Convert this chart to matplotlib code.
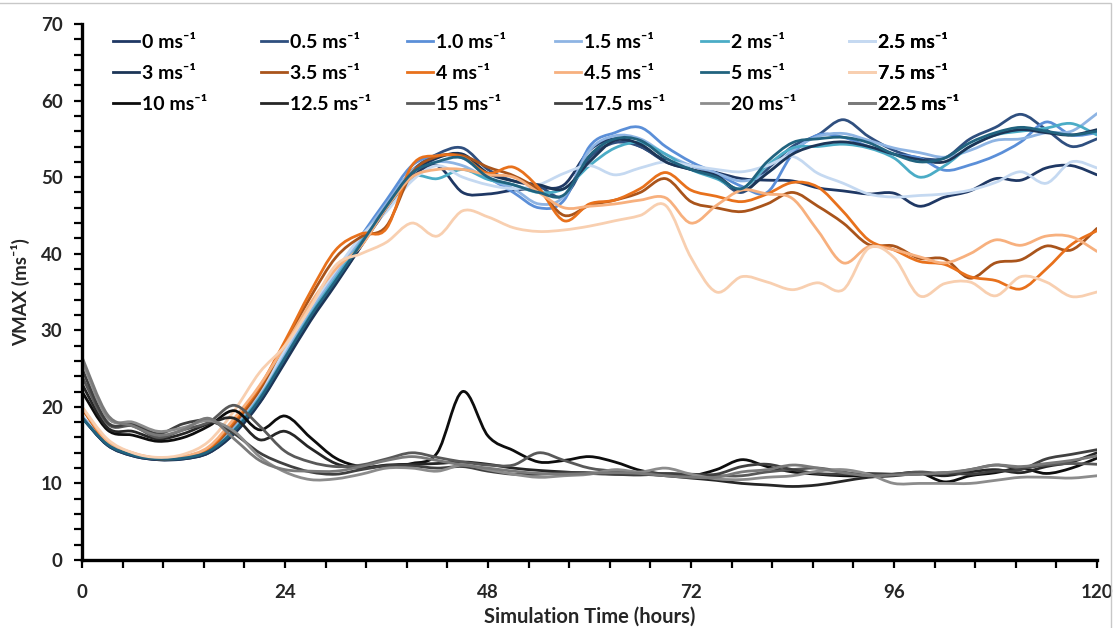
import numpy as np
import matplotlib
matplotlib.use("Agg")
import matplotlib.pyplot as plt
import matplotlib.ticker as mticker
from matplotlib.path import Path
from matplotlib.patches import PathPatch, Rectangle
from matplotlib.lines import Line2D

plt.rcParams['font.family'] = ['Lato', 'DejaVu Sans']
plt.rcParams['font.weight'] = 'bold'

# simulation time (hours), every 3 h
hours = list(range(0, 121, 3))

labels = ['0', '0.5', '1.0', '1.5', '2', '2.5',
          '3', '3.5', '4', '4.5', '5', '7.5',
          '10', '12.5', '15', '17.5', '20', '22.5']

colors = ['#1f3864', '#2f4f7f', '#5b8fd8', '#8eb4e3', '#4bacc6', '#c5d9f1',
          '#1c3557', '#a9541b', '#e8711c', '#f7b07e', '#21637f', '#f8cfb0',
          '#0d0d0d', '#262626', '#595959', '#404040', '#8c8c8c', '#7a7a7a']

v0 = [18.6, 15.0, 13.6, 13.1, 13.2, 14.0, 16.6, 20.6, 26.0, 31.5, 36.2, 41.0, 45.8, 50.0,
      51.5, 48.0, 47.8, 48.3, 48.6, 49.0, 53.5, 55.0, 54.0, 52.2, 51.5, 50.6, 49.8, 49.6,
      49.5, 48.6, 48.2, 47.8, 47.9, 46.2, 47.4, 48.2, 49.8, 49.6, 51.2, 51.5, 50.3]
v05 = [18.7, 15.1, 13.7, 13.2, 13.3, 14.1, 16.8, 21.0, 26.3, 31.8, 36.5, 41.5, 46.5, 50.8,
       53.0, 53.8, 51.0, 49.5, 48.8, 47.5, 52.5, 54.5, 54.0, 52.0, 51.0, 50.0, 48.0, 51.0,
       54.0, 55.5, 57.5, 55.3, 53.5, 52.5, 52.5, 55.0, 56.5, 58.2, 56.2, 54.0, 55.0]
v1 = [18.8, 15.2, 13.8, 13.3, 13.4, 14.4, 17.4, 21.8, 27.3, 32.8, 37.5, 42.3, 47.0, 51.5,
      52.8, 52.5, 50.0, 48.0, 46.0, 47.0, 54.0, 55.8, 56.5, 54.0, 52.0, 50.5, 48.8, 48.0,
      53.0, 55.5, 55.2, 54.0, 53.0, 52.5, 50.9, 51.6, 52.8, 54.6, 57.2, 55.5, 55.8]
v15 = [18.7, 15.2, 13.8, 13.3, 13.4, 14.3, 17.2, 21.5, 27.0, 32.5, 37.2, 42.0, 46.5, 50.8,
       52.0, 51.5, 49.8, 48.5, 46.5, 47.5, 53.5, 55.4, 55.0, 53.0, 51.5, 50.5, 49.5, 50.5,
       53.5, 55.3, 55.7, 54.8, 53.8, 53.2, 52.6, 53.5, 54.8, 55.0, 55.8, 56.0, 58.3]
v2 = [18.6, 15.1, 13.7, 13.2, 13.3, 14.2, 17.0, 21.2, 26.5, 32.0, 36.8, 41.5, 46.0, 50.0,
      49.8, 51.0, 49.7, 49.0, 48.0, 48.5, 51.5, 53.8, 54.5, 53.0, 51.0, 49.8, 48.5, 51.5,
      53.8, 54.0, 54.3, 53.8, 52.5, 50.0, 51.5, 54.0, 55.5, 56.0, 56.4, 57.0, 55.5]
v25 = [18.7, 15.3, 13.9, 13.3, 13.5, 14.6, 17.8, 22.0, 27.5, 33.0, 37.8, 42.3, 45.5, 49.5,
       51.5, 50.0, 49.0, 48.5, 49.0, 50.5, 51.5, 50.3, 51.2, 52.0, 51.5, 51.0, 50.7, 51.5,
       52.7, 50.5, 49.2, 47.8, 47.4, 47.6, 47.8, 48.3, 49.3, 50.7, 49.2, 52.0, 51.2]
v3 = [18.6, 15.0, 13.6, 13.1, 13.2, 14.0, 16.5, 20.5, 25.8, 31.2, 36.0, 41.0, 46.0, 50.5,
      52.5, 53.0, 50.5, 49.5, 49.0, 48.5, 52.0, 54.8, 54.3, 52.0, 51.0, 50.2, 48.2, 50.5,
      53.0, 54.2, 54.6, 54.0, 53.0, 52.3, 52.0, 54.0, 55.5, 56.2, 55.8, 55.5, 56.2]
v35 = [19.8, 15.3, 13.8, 13.2, 13.4, 14.5, 17.8, 22.2, 28.3, 34.3, 39.5, 42.2, 43.6, 50.5,
       52.7, 52.8, 51.3, 50.2, 48.3, 45.0, 46.3, 47.0, 48.0, 49.8, 46.8, 46.0, 45.5, 46.5,
       48.0, 46.2, 44.0, 41.2, 41.0, 39.4, 39.3, 36.8, 38.8, 39.2, 41.0, 40.5, 43.3]
v4 = [19.9, 15.4, 13.9, 13.3, 13.5, 14.6, 18.2, 22.6, 28.6, 35.0, 40.5, 42.6, 43.3, 51.5,
      52.8, 52.6, 50.5, 51.3, 48.6, 44.3, 46.5, 47.0, 48.5, 50.6, 48.3, 47.5, 46.8, 47.8,
      49.3, 48.7, 45.5, 41.8, 40.5, 39.0, 38.6, 37.0, 36.5, 35.4, 38.0, 41.2, 43.0]
v45 = [20.0, 15.5, 14.0, 13.3, 13.5, 14.8, 18.5, 22.8, 28.0, 33.5, 38.0, 41.0, 46.0, 50.0,
       51.0, 51.0, 50.3, 50.0, 48.0, 46.0, 46.2, 46.5, 47.0, 47.3, 44.0, 46.3, 48.3, 47.8,
       47.2, 43.0, 38.8, 40.9, 40.5, 39.6, 38.8, 40.0, 41.8, 41.1, 42.3, 42.2, 40.3]
v5 = [18.6, 15.1, 13.7, 13.2, 13.3, 14.2, 16.9, 21.0, 26.4, 31.8, 36.5, 41.3, 46.2, 50.5,
      52.0, 52.5, 50.0, 49.0, 48.0, 47.7, 52.8, 55.0, 54.8, 52.5, 51.0, 50.0, 48.5, 52.0,
      54.5, 55.0, 55.2, 54.5, 53.0, 52.0, 52.5, 54.5, 55.8, 56.5, 56.0, 55.5, 56.0]
v75 = [20.0, 15.8, 14.0, 13.4, 13.8, 15.5, 19.5, 24.5, 28.0, 33.0, 38.5, 40.0, 41.5, 44.0,
       42.3, 45.6, 44.8, 43.4, 42.9, 43.1, 43.6, 44.3, 45.0, 46.3, 39.5, 35.0, 37.0, 36.3,
       35.3, 36.2, 35.3, 40.7, 39.5, 34.5, 36.1, 36.3, 34.5, 37.0, 36.3, 34.4, 35.0]
v10 = [22.0, 17.0, 16.3, 15.5, 16.0, 17.5, 19.5, 17.0, 18.8, 16.0, 13.3, 12.2, 12.3, 12.6,
       14.0, 22.0, 16.2, 14.3, 12.8, 13.0, 13.5, 12.8, 11.7, 11.2, 11.0, 11.8, 13.1, 12.2,
       11.5, 11.2, 11.0, 11.0, 11.2, 11.4, 10.2, 11.0, 11.4, 12.0, 11.3, 12.0, 13.3]
v125 = [23.0, 17.3, 16.8, 15.8, 16.5, 17.8, 18.5, 15.7, 16.8, 14.6, 12.6, 12.0, 12.4, 12.5,
        12.6, 12.8, 12.5, 12.0, 11.7, 11.5, 11.3, 11.2, 11.2, 11.0, 10.7, 10.4, 10.0, 9.8,
        9.6, 9.8, 10.3, 10.8, 11.0, 11.3, 11.0, 11.5, 11.8, 11.4, 12.2, 12.8, 14.0]
v15b = [24.0, 17.8, 17.5, 16.0, 17.0, 18.0, 20.2, 17.5, 14.2, 12.8, 12.2, 12.4, 13.2, 14.0,
        13.4, 12.8, 12.4, 12.4, 14.0, 13.0, 12.0, 11.6, 11.4, 11.2, 11.0, 11.0, 11.0, 11.5,
        11.8, 12.0, 11.5, 11.0, 11.2, 11.5, 11.3, 11.8, 12.4, 12.0, 12.4, 12.6, 12.5]
v175 = [25.0, 18.0, 17.8, 16.5, 17.8, 18.2, 16.5, 14.0, 12.5, 11.5, 11.2, 11.8, 12.3, 12.3,
        12.0, 12.2, 11.6, 11.2, 11.2, 11.4, 11.4, 11.2, 11.1, 11.3, 11.2, 11.2, 12.2, 12.5,
        11.8, 11.3, 11.2, 11.3, 11.2, 11.2, 11.4, 11.2, 11.6, 11.8, 13.2, 13.8, 14.4]
v20 = [26.0, 18.6, 18.0, 16.8, 17.3, 18.2, 16.8, 13.5, 11.5, 10.5, 10.6, 11.2, 12.0, 12.0,
       11.6, 12.4, 11.8, 11.2, 10.8, 11.0, 11.2, 11.8, 11.5, 12.0, 11.2, 10.6, 10.5, 10.8,
       11.0, 11.6, 11.8, 11.2, 10.0, 10.0, 10.0, 10.0, 10.4, 10.8, 10.8, 10.7, 11.0]
v225 = [26.5, 19.0, 17.5, 16.3, 17.0, 18.5, 15.8, 13.0, 11.8, 11.6, 11.6, 12.2, 13.0, 13.5,
        13.0, 12.4, 12.0, 11.6, 11.3, 11.2, 11.3, 11.4, 11.3, 11.0, 10.8, 10.8, 11.5, 11.8,
        12.4, 12.0, 11.4, 11.0, 11.1, 11.2, 11.4, 11.8, 12.4, 12.2, 12.6, 13.0, 13.6]

series = [v0, v05, v1, v15, v2, v25, v3, v35, v4, v45, v5, v75,
          v10, v125, v15b, v175, v20, v225]


def smooth_path(x, y):
    # cubic bezier through the points, like a spreadsheet "smoothed line"
    pts = np.column_stack([x, y]).astype(float)
    verts = [pts[0]]
    codes = [Path.MOVETO]
    n = len(pts)
    for i in range(n - 1):
        p0 = pts[i - 1] if i > 0 else pts[i]
        p1 = pts[i]
        p2 = pts[i + 1]
        p3 = pts[i + 2] if i + 2 < n else pts[i + 1]
        verts += [p1 + (p2 - p0) / 6.0, p2 - (p3 - p1) / 6.0, p2]
        codes += [Path.CURVE4] * 3
    return Path(verts, codes)


fig = plt.figure(figsize=(11.14, 6.28), dpi=100)
ax = fig.add_axes([0.0736, 0.1083, 0.9111, 0.8535])

handles = []
for lab, col, vals in zip(labels, colors, series):
    patch = PathPatch(smooth_path(hours, vals), facecolor='none', edgecolor=col,
                      lw=2.0, transform=ax.transData, capstyle='round', joinstyle='round')
    ax.add_patch(patch)
    handles.append(Line2D([], [], color=col, lw=2.0, label=f'{lab} ms\u207b\u00b9'))

ax.set_xlim(0, 120)
ax.set_ylim(0, 70)
ax.xaxis.set_major_locator(mticker.MultipleLocator(24))
ax.xaxis.set_minor_locator(mticker.MultipleLocator(4.8))
ax.yaxis.set_major_locator(mticker.MultipleLocator(10))
ax.yaxis.set_minor_locator(mticker.MultipleLocator(2))

for s in ['top', 'right']:
    ax.spines[s].set_visible(False)
for s in ['left', 'bottom']:
    ax.spines[s].set_linewidth(2.4)
    ax.spines[s].set_color('black')

ax.tick_params(axis='x', which='both', direction='out', length=6, width=1.6,
               pad=11, labelsize=13.5, labelcolor='#262626')
ax.tick_params(axis='y', which='both', direction='out', length=6, width=1.6,
               pad=8, labelsize=13.5, labelcolor='#262626')
ax.tick_params(which='minor', labelleft=False, labelbottom=False)

ax.set_ylabel('VMAX (ms\u207b\u00b9)', fontsize=13.5, fontweight='bold', color='#262626')
ax.yaxis.set_label_coords(-0.051, 0.5)
ax.set_xlabel('Simulation Time (hours)', fontsize=14.5, fontweight='bold', color='#262626')
ax.xaxis.set_label_coords(0.5, -0.088)

# legend: 3 rows x 6 columns, one small legend per column
col_x = [0.0305, 0.1759, 0.3202, 0.4660, 0.6103, 0.7557]
for c in range(6):
    hs = [handles[c], handles[c + 6], handles[c + 12]]
    leg = ax.legend(handles=hs, loc='upper left', bbox_to_anchor=(col_x[c], 0.981),
                    frameon=False, fontsize=14, borderpad=0, borderaxespad=0,
                    handlelength=1.35, handletextpad=0.15, labelspacing=0.72)
    for t in leg.get_texts():
        t.set_fontweight('bold')
    ax.add_artist(leg)

fig.patches.append(Rectangle((-0.01, -0.01), 1.0075, 1.006, transform=fig.transFigure,
                             facecolor='none', edgecolor='#c8c8c8', lw=1.0))

fig.savefig('out.png', dpi=100)
